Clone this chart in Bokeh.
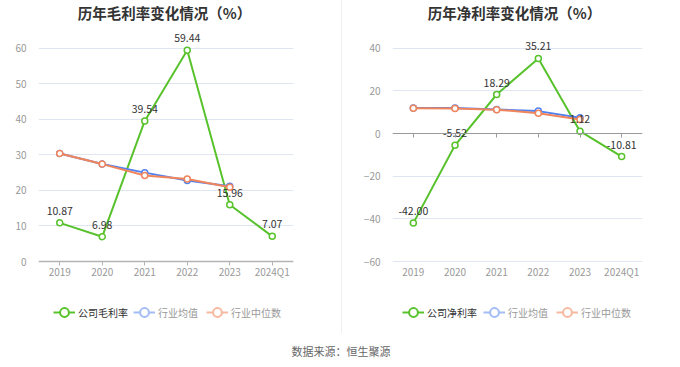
from bokeh.plotting import figure
from bokeh.models import (Range1d, FixedTicker, CategoricalAxis, Legend, LegendItem,
                          Label, Spacer, ColumnDataSource)
from bokeh.layouts import row, column
from bokeh.core.properties import value
from bokeh.embed import file_html
from bokeh.resources import INLINE

# ---------------- data ----------------
years = ["2019", "2020", "2021", "2022", "2023", "2024Q1"]
years_ind = ["2019", "2020", "2021", "2022", "2023"]

gross_company = [10.87, 6.98, 39.54, 59.44, 15.96, 7.07]
gross_ind_avg = [30.4, 27.4, 25.0, 22.8, 21.2]
gross_ind_med = [30.4, 27.4, 24.2, 23.2, 20.9]

net_company = [-42.00, -5.52, 18.29, 35.21, 1.12, -10.81]
net_ind_avg = [12.0, 12.0, 11.3, 10.5, 7.4]
net_ind_med = [11.9, 11.7, 11.2, 9.5, 6.6]

left_yticks = [0, 10, 20, 30, 40, 50, 60]
right_yticks = [-60, -40, -20, 0, 20, 40]

left_title = "历年毛利率变化情况（%）"
right_title = "历年净利率变化情况（%）"
left_names = ["公司毛利率", "行业均值", "行业中位数"]
right_names = ["公司净利率", "行业均值", "行业中位数"]
source_text = "数据来源：恒生聚源"

# ---------------- style ----------------
FONT = "Noto Sans CJK SC"
GREEN = "#58c22c"
BLUE = "#5282f0"
ORANGE = "#f0855b"
BLUE_L = "#a3bcf6"
ORANGE_L = "#f7b8a0"
GRID = "#e0e6f1"
H = 336            # chart figure height (frame spans it fully)
TICK_TOP_PX = 47.7     # pixel row of the highest y tick
TICK_BOTTOM_PX = 261.0 # pixel row of the lowest y tick


def make_chart(names, comp, avg, med, yticks, width, bl, br, zero_axis):
    lo, hi = yticks[0], yticks[-1]
    k = (TICK_BOTTOM_PX - TICK_TOP_PX) / (hi - lo)
    y_top = hi + TICK_TOP_PX / k
    y_bot = lo - (H - TICK_BOTTOM_PX) / k
    p = figure(x_range=years, y_range=Range1d(y_bot, y_top), x_axis_location=None,
               width=width, height=H, output_backend="svg", toolbar_location=None,
               min_border_left=bl, min_border_right=br, min_border_top=0, min_border_bottom=0)
    p.outline_line_color = None
    p.xgrid.grid_line_color = None
    p.ygrid.grid_line_color = GRID
    p.ygrid.grid_line_width = 1

    p.yaxis.ticker = FixedTicker(ticks=yticks)
    p.yaxis.axis_line_color = None
    p.yaxis.major_tick_line_color = None
    p.yaxis.minor_tick_line_color = None
    p.yaxis.major_label_text_color = "#999999"
    p.yaxis.major_label_text_font = FONT
    p.yaxis.major_label_text_font_size = "10px"
    p.yaxis.major_label_standoff = 6

    lab = dict(major_label_text_color="#999999", major_label_text_font=FONT,
               major_label_text_font_size="10px")
    if zero_axis:
        za = CategoricalAxis(fixed_location=0, axis_line_color="#9a9a9a", axis_line_width=1,
                             major_tick_line_color="#9a9a9a", major_tick_out=4, major_tick_in=0,
                             major_label_text_font_size="0px", major_label_text_alpha=0)
        p.add_layout(za, "below")
        xa = CategoricalAxis(fixed_location=lo, axis_line_color=None, major_tick_line_color=None,
                             major_tick_out=0, major_tick_in=0, major_label_standoff=2, **lab)
        p.add_layout(xa, "below")
    else:
        xa = CategoricalAxis(fixed_location=lo, axis_line_color="#b4b4b4", axis_line_width=1.5,
                             major_tick_line_color="#b4b4b4", major_tick_out=4, major_tick_in=0,
                             major_label_standoff=-2, **lab)
        p.add_layout(xa, "below")

    src_c = ColumnDataSource(dict(x=years, y=comp, t=[f"{v:.2f}" for v in comp]))
    src_a = ColumnDataSource(dict(x=years_ind, y=avg))
    src_m = ColumnDataSource(dict(x=years_ind, y=med))

    p.line("x", "y", source=src_c, line_color=GREEN, line_width=2)
    p.scatter("x", "y", source=src_c, size=6, fill_color="white", line_color=GREEN, line_width=1.5)
    p.line("x", "y", source=src_a, line_color=BLUE, line_width=2)
    p.scatter("x", "y", source=src_a, size=6, fill_color="white", line_color=BLUE, line_width=1.5)
    p.line("x", "y", source=src_m, line_color=ORANGE, line_width=2)
    p.scatter("x", "y", source=src_m, size=6, fill_color="white", line_color=ORANGE, line_width=1.5)

    p.text("x", "y", text="t", source=src_c, text_align="center", text_baseline="middle",
           y_offset=-12, text_color="#333333", text_font=value(FONT), text_font_size="10.5px")

    # legend icons: renderers holding a single non-drawn (NaN) point, used only for the legend
    def icon(color):
        e = ColumnDataSource(dict(x=[years[0]], y=[float("nan")]))
        r1 = p.line("x", "y", source=e, line_color=color, line_width=2)
        r2 = p.scatter("x", "y", source=e, size=9, fill_color="white", line_color=color, line_width=2)
        return [r1, r2]

    it1 = LegendItem(label=names[0], renderers=icon(GREEN))
    it2 = LegendItem(label=names[1], renderers=icon(BLUE_L))
    it3 = LegendItem(label=names[2], renderers=icon(ORANGE_L))
    return p, it1, it2, it3


def add_legends(p, it1, it2, it3, x1, x2):
    common = dict(orientation="horizontal", padding=0, margin=0, spacing=8,
                  label_standoff=3, glyph_width=22, glyph_height=26, label_height=12,
                  border_line_color=None, background_fill_alpha=0,
                  label_text_font=FONT, label_text_font_size="10px")
    la = Legend(items=[it1], location=(x1, 11), label_text_color="#333333", **common)
    lb = Legend(items=[it2, it3], location=(x2, 11), label_text_color="#999999", **common)
    p.add_layout(la)
    p.add_layout(lb)


def add_title(p, text, x):
    p.add_layout(Label(x=x, y=H - 12, x_units="screen", y_units="screen", text=text,
                       text_align="center", text_baseline="middle", text_font=FONT,
                       text_font_size="14.5px", text_font_style="bold", text_color="#333333"))


pl, a1, a2, a3 = make_chart(left_names, gross_company, gross_ind_avg, gross_ind_med,
                            left_yticks, 341, 38, 48, False)
add_legends(pl, a1, a2, a3, 15, 95)
add_title(pl, left_title, 126)

pr, b1, b2, b3 = make_chart(right_names, net_company, net_ind_avg, net_ind_med,
                            right_yticks, 338, 50, 38, True)
add_legends(pr, b1, b2, b3, 10, 91)
add_title(pr, right_title, 122)

divider = Spacer(width=1, height=333, styles={"background-color": "#efefef"})

foot = figure(width=680, height=31, x_range=Range1d(0, 1), y_range=Range1d(0, 1),
              x_axis_type=None, y_axis_type=None, output_backend="svg", toolbar_location=None,
              min_border=0)
foot.outline_line_color = None
foot.xgrid.grid_line_color = None
foot.ygrid.grid_line_color = None
foot.add_layout(Label(x=340.5, y=17, x_units="screen", y_units="screen", text=source_text,
                      text_align="center", text_baseline="middle", text_font=FONT,
                      text_font_size="11px", text_color="#666666"))

layout = column(row(pl, divider, pr), foot)

open("out.html", "w").write(file_html(layout, INLINE))
